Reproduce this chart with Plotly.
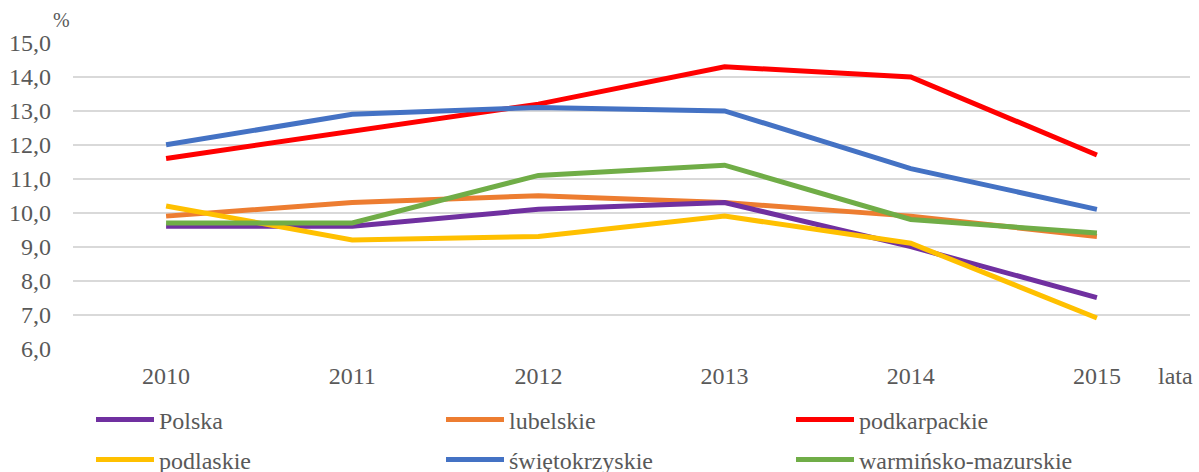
import plotly.graph_objects as go

years = ["2010", "2011", "2012", "2013", "2014", "2015"]
polska = [9.6, 9.6, 10.1, 10.3, 9.0, 7.5]
lubelskie = [9.9, 10.3, 10.5, 10.3, 9.9, 9.3]
podkarpackie = [11.6, 12.4, 13.2, 14.3, 14.0, 11.7]
podlaskie = [10.2, 9.2, 9.3, 9.9, 9.1, 6.9]
swietokrzyskie = [12.0, 12.9, 13.1, 13.0, 11.3, 10.1]
warminsko = [9.7, 9.7, 11.1, 11.4, 9.8, 9.4]

series = [
    ("Polska", polska, "#7030A0", "legend"),
    ("lubelskie", lubelskie, "#ED7D31", "legend"),
    ("podkarpackie", podkarpackie, "#FF0000", "legend"),
    ("podlaskie", podlaskie, "#FFC000", "legend2"),
    ("świętokrzyskie", swietokrzyskie, "#4472C4", "legend2"),
    ("warmińsko-mazurskie", warminsko, "#70AD47", "legend2"),
]

FONT = "Liberation Serif"
GREY = "#595959"

fig = go.Figure()
order = [1, 0, 3, 2, 4, 5]
for i in order:
    name, vals, col, lg = series[i]
    fig.add_trace(go.Scatter(
        x=years, y=vals, name=name, mode="lines",
        line=dict(color=col, width=5),
        legend=lg, legendrank=i,
    ))

legend_common = dict(
    orientation="h", xref="container", yref="container",
    xanchor="left", yanchor="middle",
    font=dict(family=FONT, size=24, color=GREY),
    itemwidth=58, entrywidth=277, entrywidthmode="pixels",
    bgcolor="rgba(0,0,0,0)", traceorder="normal",
)

fig.update_layout(
    width=1199, height=472,
    margin=dict(l=70, r=9, t=43, b=123),
    plot_bgcolor="white", paper_bgcolor="white",
    font=dict(family=FONT, size=24, color=GREY),
    separators=", ",
    showlegend=True,
    legend=dict(**legend_common, x=91/1199, y=1 - 420/472),
    legend2=dict(**legend_common, x=91/1199, y=1 - 460/472),
    xaxis=dict(
        type="category", range=[-0.5, 5.5], showgrid=False, zeroline=False,
        showline=False, ticks="", ticklabelstandoff=10,
        tickfont=dict(family=FONT, size=24, color=GREY),
    ),
    yaxis=dict(
        range=[6, 15], dtick=1, tick0=6, tickformat=".1f",
        showgrid=True, gridcolor="#D9D9D9", gridwidth=2, zeroline=False,
        showline=False, ticks="", ticklabelstandoff=21,
        tickfont=dict(family=FONT, size=24, color=GREY),
    ),
    annotations=[
        dict(text="%", xref="paper", yref="paper", x=-12/1120, y=1 + 23/306,
             xanchor="center", yanchor="middle", showarrow=False,
             font=dict(family=FONT, size=20, color=GREY)),
        dict(text="lata", xref="paper", yref="paper", x=1.0 + 5/1120, y=-28/306,
             xanchor="right", yanchor="middle", showarrow=False,
             font=dict(family=FONT, size=24, color=GREY)),
    ],
)

fig.write_html("out.html", config={"displayModeBar": False},
               post_script="document.body.style.margin='0';")
